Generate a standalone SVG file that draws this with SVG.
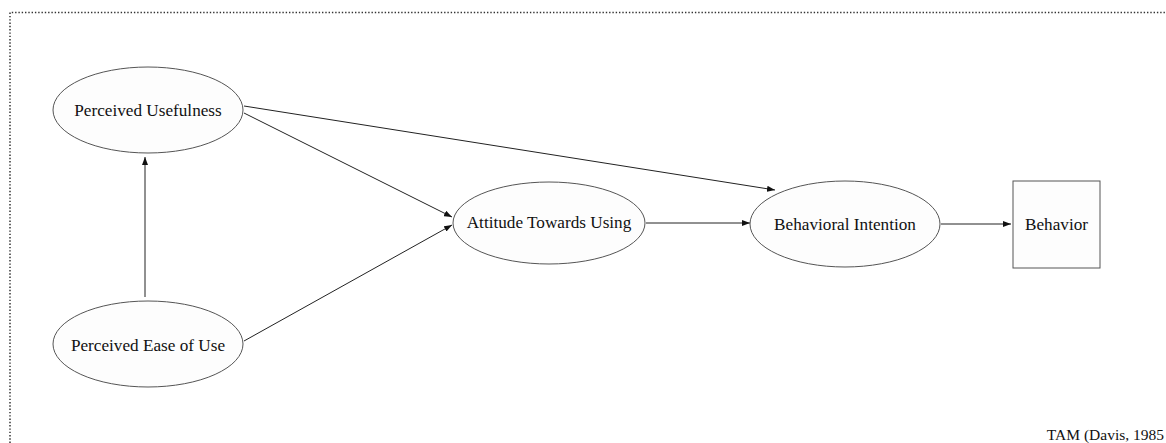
<svg xmlns="http://www.w3.org/2000/svg" width="1166" height="443" viewBox="0 0 1166 443">
<style>
.node{fill:#fdfdfd;stroke:#555;stroke-width:1}
.lbl{font-family:"Liberation Serif",serif;font-size:17.2px;fill:#111;text-anchor:middle;dominant-baseline:central}
.edge{stroke:#222;stroke-width:1;fill:none;marker-end:url(#ah)}
.frame{stroke:#333;stroke-width:1.5;stroke-dasharray:1.4 1.9;fill:none}
</style>
<defs>
<marker id="ah" viewBox="0 0 8 6" refX="8" refY="3" markerWidth="8" markerHeight="6" markerUnits="userSpaceOnUse" orient="auto">
<path d="M0,0 L8,3 L0,6 Z" fill="#111"/>
</marker>
</defs>
<rect width="1166" height="443" fill="#fff"/>
<path class="frame" d="M10,443 L10,12.5 L1166,12.5"/>
<g id="connectors">
<line class="edge" x1="145" y1="297" x2="145" y2="157"/>
<line class="edge" x1="244" y1="106" x2="775" y2="190"/>
<line class="edge" x1="244" y1="113" x2="452" y2="217"/>
<line class="edge" x1="244" y1="341" x2="452" y2="225"/>
<line class="edge" x1="646" y1="223" x2="750" y2="223"/>
<line class="edge" x1="941" y1="224" x2="1011" y2="224"/>
</g>
<g id="pu">
<ellipse class="node" cx="148" cy="110" rx="95" ry="43"/>
<text class="lbl" x="148" y="110">Perceived Usefulness</text>
</g>
<g id="peou">
<ellipse class="node" cx="148" cy="344" rx="95" ry="43"/>
<text class="lbl" x="148" y="345">Perceived Ease of Use</text>
</g>
<g id="atu">
<ellipse class="node" cx="549" cy="223" rx="96" ry="41"/>
<text class="lbl" x="549" y="222">Attitude Towards Using</text>
</g>
<g id="bi">
<ellipse class="node" cx="845" cy="224" rx="95" ry="43"/>
<text class="lbl" x="845" y="224">Behavioral Intention</text>
</g>
<g id="behavior">
<rect class="node" x="1013" y="181" width="87" height="87"/>
<text class="lbl" x="1056.5" y="224">Behavior</text>
</g>
<text x="1164" y="440" text-anchor="end" style="font-family:'Liberation Serif',serif;font-size:15.5px;fill:#111">TAM (Davis, 1985</text>
</svg>
